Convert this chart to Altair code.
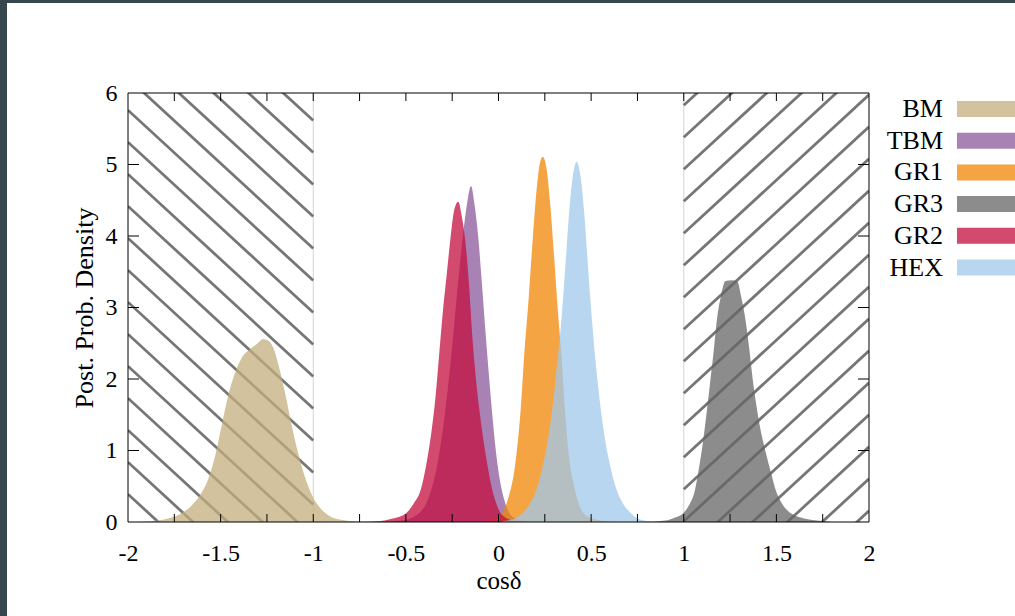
import altair as alt
import pandas as pd

# ---------------- data ----------------
series_names = ["BM", "TBM", "GR1", "GR3", "GR2", "HEX"]
series_colors = ["#c3af7e", "#8b589c", "#f08604", "#666666", "#c30e3e", "#a0c8eb"]

bm_x = [-1.96, -1.88, -1.80, -1.72, -1.66, -1.61, -1.57, -1.53, -1.50, -1.46, -1.42, -1.38, -1.34, -1.30,
        -1.27, -1.24, -1.21, -1.18, -1.15, -1.12, -1.09, -1.06, -1.03, -1.00, -0.96, -0.91, -0.85, -0.78, -0.70]
bm_y = [0.00, 0.01, 0.04, 0.11, 0.22, 0.38, 0.58, 0.92, 1.28, 1.76, 2.10, 2.32, 2.42, 2.50,
        2.56, 2.53, 2.40, 2.12, 1.78, 1.40, 1.05, 0.76, 0.52, 0.34, 0.19, 0.08, 0.03, 0.01, 0.00]

tbm_x = [-0.62, -0.52, -0.44, -0.38, -0.33, -0.29, -0.25, -0.22, -0.19, -0.17, -0.148, -0.13,
         -0.11, -0.09, -0.07, -0.05, -0.03, -0.01, 0.01, 0.03, 0.06, 0.10, 0.16, 0.25]
tbm_y = [0.00, 0.02, 0.10, 0.32, 0.80, 1.50, 2.45, 3.30, 4.05, 4.45, 4.70, 4.45,
         4.00, 3.35, 2.65, 2.00, 1.40, 0.90, 0.55, 0.32, 0.12, 0.04, 0.01, 0.00]

gr1_x = [-0.10, 0.00, 0.05, 0.09, 0.12, 0.14, 0.16, 0.18, 0.20, 0.22, 0.239, 0.26, 0.28, 0.30,
         0.32, 0.34, 0.36, 0.38, 0.41, 0.44, 0.48, 0.55, 0.62]
gr1_y = [0.00, 0.07, 0.31, 0.80, 1.58, 2.38, 3.03, 3.78, 4.48, 4.97, 5.11, 4.93, 4.42, 3.72,
         2.97, 2.33, 1.52, 0.93, 0.48, 0.21, 0.08, 0.02, 0.00]

gr3_x = [0.80, 0.90, 0.95, 1.00, 1.03, 1.06, 1.08, 1.10, 1.12, 1.14, 1.16, 1.18, 1.20, 1.225, 1.26,
         1.29, 1.31, 1.33, 1.35, 1.375, 1.40, 1.42, 1.44, 1.47, 1.50, 1.53, 1.56, 1.60, 1.65, 1.72, 1.80]
gr3_y = [0.00, 0.02, 0.06, 0.13, 0.24, 0.44, 0.72, 1.05, 1.45, 1.90, 2.35, 2.85, 3.15, 3.37, 3.38,
         3.36, 3.15, 2.88, 2.50, 1.94, 1.50, 1.22, 1.00, 0.70, 0.42, 0.26, 0.16, 0.09, 0.05, 0.02, 0.00]

gr2_x = [-0.76, -0.66, -0.57, -0.50, -0.46, -0.42, -0.39, -0.36, -0.34, -0.32, -0.30, -0.28, -0.26,
         -0.24, -0.217, -0.20, -0.18, -0.16, -0.14, -0.12, -0.10, -0.08, -0.06, -0.04, -0.02, 0.00,
         0.04, 0.10, 0.18]
gr2_y = [0.00, 0.01, 0.05, 0.12, 0.25, 0.45, 0.80, 1.30, 1.75, 2.35, 2.95, 3.45, 3.95,
         4.35, 4.48, 4.30, 3.95, 3.35, 2.55, 1.95, 1.50, 1.12, 0.80, 0.52, 0.32, 0.18,
         0.06, 0.01, 0.00]

hex_x = [0.02, 0.09, 0.13, 0.17, 0.20, 0.22, 0.24, 0.26, 0.28, 0.30, 0.32, 0.337, 0.352,
         0.367, 0.382, 0.402, 0.422, 0.442, 0.462, 0.477, 0.492, 0.507, 0.522, 0.542, 0.562,
         0.582, 0.602, 0.622, 0.642, 0.672, 0.712, 0.752, 0.82]
hex_y = [0.01, 0.05, 0.13, 0.26, 0.42, 0.58, 0.80, 1.05, 1.38, 1.80, 2.30, 2.75, 3.25,
         3.80, 4.35, 4.85, 5.04, 4.85, 4.35, 3.80, 3.25, 2.75, 2.30, 1.80, 1.38,
         1.05, 0.80, 0.58, 0.42, 0.26, 0.13, 0.05, 0.01]

series_x = [bm_x, tbm_x, gr1_x, gr3_x, gr2_x, hex_x]
series_y = [bm_y, tbm_y, gr1_y, gr3_y, gr2_y, hex_y]

x_label_values = [-2, -1.5, -1, -0.5, 0, 0.5, 1, 1.5, 2]
y_label_values = [0, 1, 2, 3, 4, 5, 6]
x_tick_values = [-1.75, -1.5, -1.25, -1.0, -0.75, -0.5, -0.25, 0.0, 0.25, 0.5, 0.75, 1.0, 1.25, 1.5, 1.75]
y_tick_values = [1, 2, 3, 4, 5]
excluded_bounds = [-1, 1]          # hatched regions: [-2,-1] and [1,2]

# ---------------- layout ----------------
PLOT_W, PLOT_H = 741, 429
PAD_L, PAD_T = 128, 93
PAD_R, PAD_B = 1015 - PAD_L - PLOT_W, 616 - PAD_T - PLOT_H
FONT = "Liberation Serif"
FS = 24
FS_BIG = 26
OPAC = 0.75

x_scale = alt.Scale(domain=[-2, 2], nice=False, zero=False)
y_scale = alt.Scale(domain=[0, 6], nice=False, zero=False)

x_axis = alt.Axis(values=x_label_values, labelExpr="'' + datum.value", title="cosδ",
                  domain=False, ticks=False, tickSize=0, grid=False,
                  labelFont=FONT, labelFontSize=FS, labelColor="#000", labelPadding=19,
                  labelFlush=False, labelOverlap=False,
                  titleFont=FONT, titleFontSize=25, titleFontWeight="normal", titleColor="#000",
                  titleX=PLOT_W / 2, titleY=58, titleAlign="center", titleBaseline="middle",
                  zindex=1)
y_axis = alt.Axis(values=y_label_values, labelExpr="'' + datum.value", title="Post. Prob. Density",
                  domain=False, ticks=False, tickSize=0, grid=False,
                  labelFont=FONT, labelFontSize=FS, labelColor="#000", labelPadding=11,
                  labelFlush=False, labelOverlap=False,
                  titleFont=FONT, titleFontSize=FS_BIG, titleFontWeight="normal", titleColor="#000",
                  titleAngle=270, titleX=-44, titleY=PLOT_H / 2, titleAlign="center",
                  titleBaseline="middle", zindex=1)


def X(f):
    return alt.X(f"{f}:Q", scale=x_scale, axis=x_axis)


def Y(f):
    return alt.Y(f"{f}:Q", scale=y_scale, axis=y_axis)


one = pd.DataFrame({"k": [0]})

# white page with the dark frame of the screenshot around it
page = alt.Chart(one).mark_rect(color="white").encode(
    x=alt.value(7 - PAD_L), x2=alt.value(1015 - PAD_L),
    y=alt.value(3 - PAD_T), y2=alt.value(616 - PAD_T))

bounds = alt.Chart(pd.DataFrame({"v": excluded_bounds})).mark_rule(
    color="#d4d4d4", strokeWidth=1).encode(x=X("v"), y=alt.value(0), y2=alt.value(PLOT_H))

# hatch decoration of excluded regions
px_x = PLOT_W / 4
px_y = PLOT_H / 6
h_slope = 0.92 * px_x / px_y
h_step = 32 / px_y
left_rows, right_rows = [], []
for k in range(-40, 40):
    c = 5.76 + k * h_step
    if c > 0 and c - h_slope < 6:
        left_rows.append({"x": -2, "y": c, "x2": -1, "y2": c - h_slope})
    c = 3.59 + k * h_step
    if c < 6 and c + h_slope > 0:
        right_rows.append({"x": 1, "y": c, "x2": 2, "y2": c + h_slope})
hatch_df = pd.DataFrame(left_rows + right_rows)
hatch = alt.Chart(hatch_df).mark_rule(color="#767676", strokeWidth=2.8, clip=True).encode(
    x=X("x"), y=Y("y"), x2="x2:Q", y2="y2:Q")

areas = []
for name, col, xs, ys in zip(series_names, series_colors, series_x, series_y):
    df = pd.DataFrame({"x": xs, "y": ys})
    areas.append(alt.Chart(df).mark_area(color=col, opacity=OPAC, interpolate="monotone",
                                         clip=True).encode(x=X("x"), y=Y("y")))

xt = pd.DataFrame({"v": x_tick_values})
yt = pd.DataFrame({"v": y_tick_values})
tick_bottom = alt.Chart(xt).mark_rule(color="black").encode(
    x=X("v"), y=alt.value(PLOT_H), y2=alt.value(PLOT_H - 8))
tick_top = alt.Chart(xt).mark_rule(color="black").encode(
    x=X("v"), y=alt.value(0), y2=alt.value(8))
tick_left = alt.Chart(yt).mark_rule(color="black").encode(
    y=Y("v"), x=alt.value(0), x2=alt.value(11))
tick_right = alt.Chart(yt).mark_rule(color="black").encode(
    y=Y("v"), x=alt.value(PLOT_W), x2=alt.value(PLOT_W - 11))

frame = alt.Chart(one).mark_rect(fill="transparent", stroke="black", strokeWidth=1).encode(
    x=alt.value(0), x2=alt.value(PLOT_W), y=alt.value(0), y2=alt.value(PLOT_H))

main = alt.layer(page, bounds, hatch, *areas, tick_bottom, tick_top, tick_left, tick_right, frame)

# legend (labels left of wide swatches)
leg_df = pd.DataFrame({"name": series_names, "color": series_colors})
ly = alt.Y("name:N", scale=alt.Scale(type="point", domain=series_names, range=[16, 174.5], padding=0),
           axis=None)
leg_sw = alt.Chart(leg_df).mark_rule(strokeWidth=16, opacity=OPAC, strokeCap="butt").encode(
    x=alt.value(829), x2=alt.value(1015 - PAD_L), y=ly, color=alt.Color("color:N", scale=None))
leg_tx = alt.Chart(leg_df).mark_text(align="right", baseline="middle", font=FONT, fontSize=FS_BIG,
                                      color="black").encode(x=alt.value(815), y=ly, text="name:N")
legend = alt.layer(leg_sw, leg_tx)

chart = alt.layer(main, legend).resolve_scale(y="independent").properties(
    width=PLOT_W, height=PLOT_H,
    padding={"left": PAD_L, "top": PAD_T, "right": PAD_R, "bottom": PAD_B},
    autosize=alt.AutoSizeParams(type="none"),
    background="#37474f",
).configure_view(stroke="transparent")

chart.save("out.html", embed_options={"renderer": "svg", "actions": False})
